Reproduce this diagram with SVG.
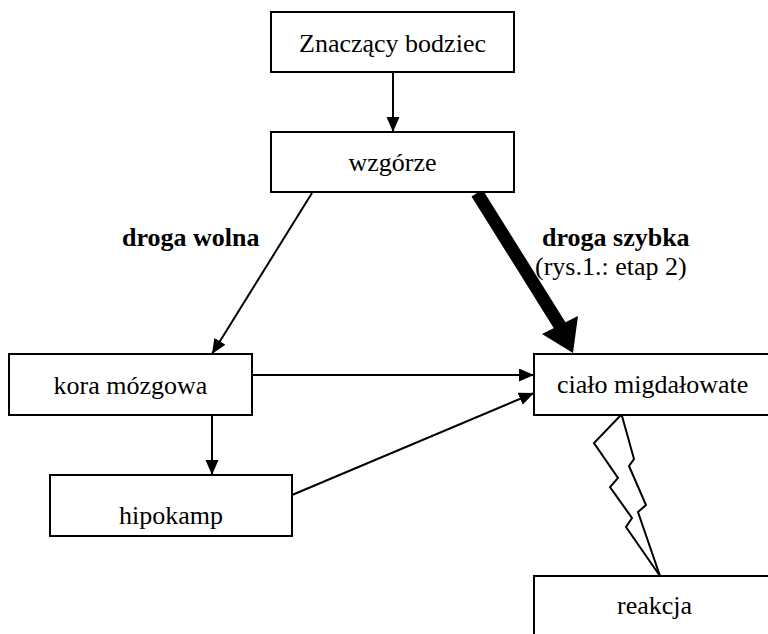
<svg xmlns="http://www.w3.org/2000/svg" width="768" height="634" viewBox="0 0 768 634">
<style>
.box{fill:#fff;stroke:#000;stroke-width:2}
.t{font-family:"Liberation Serif","Times New Roman",serif;font-size:26px;fill:#000}
.b{font-weight:bold}
.ln{stroke:#000;stroke-width:2;fill:none;marker-end:url(#ah)}
</style>
<defs>
<marker id="ah" markerUnits="userSpaceOnUse" markerWidth="16" markerHeight="14" refX="15" refY="6.5" orient="auto" viewBox="0 0 16 14">
<path d="M0,0 L15,6.5 L0,13 z" fill="#000"/>
</marker>
</defs>
<rect width="768" height="634" fill="#fff"/>
<g id="connectors">
<line class="ln" x1="393" y1="72" x2="393" y2="132"/>
<line class="ln" x1="312" y1="193" x2="212" y2="354"/>
<line class="ln" x1="212" y1="415" x2="212" y2="475"/>
<line class="ln" x1="252" y1="375" x2="534" y2="375"/>
<line class="ln" x1="292" y1="495" x2="534" y2="393"/>
<line x1="477" y1="193" x2="562" y2="329" stroke="#000" stroke-width="13"/>
<polygon points="573,353 542,334 578,316" fill="#000"/>
<polygon points="620,416 594,443 618,478 610,487 632,518 626,527 660,576 638,512 646,505 629,466 634,459 622,416" fill="#fff" stroke="#000" stroke-width="2" stroke-linejoin="miter"/>
</g>
<g id="bodziec">
<rect class="box" x="271" y="12" width="243" height="60"/>
<text class="t" x="392.5" y="52" text-anchor="middle">Znaczący bodziec</text>
</g>
<g id="wzgorze">
<rect class="box" x="271" y="132" width="243" height="60"/>
<text class="t" x="392.5" y="171" text-anchor="middle">wzgórze</text>
</g>
<g id="kora">
<rect class="box" x="9" y="354" width="243" height="61"/>
<text class="t" x="130.5" y="394" text-anchor="middle">kora mózgowa</text>
</g>
<g id="hipokamp">
<rect class="box" x="50" y="475" width="242" height="61"/>
<text class="t" x="171" y="524" text-anchor="middle">hipokamp</text>
</g>
<g id="cialo">
<rect class="box" x="534" y="354" width="260" height="61"/>
<text class="t" x="557" y="393">ciało migdałowate</text>
</g>
<g id="reakcja">
<rect class="box" x="534" y="576" width="260" height="80"/>
<text class="t" x="617" y="614">reakcja</text>
</g>
<g id="labels">
<text class="t b" x="122" y="246">droga wolna</text>
<text class="t b" x="542" y="246">droga szybka</text>
<text class="t" x="535" y="275">(rys.1.: etap 2)</text>
</g>
</svg>
